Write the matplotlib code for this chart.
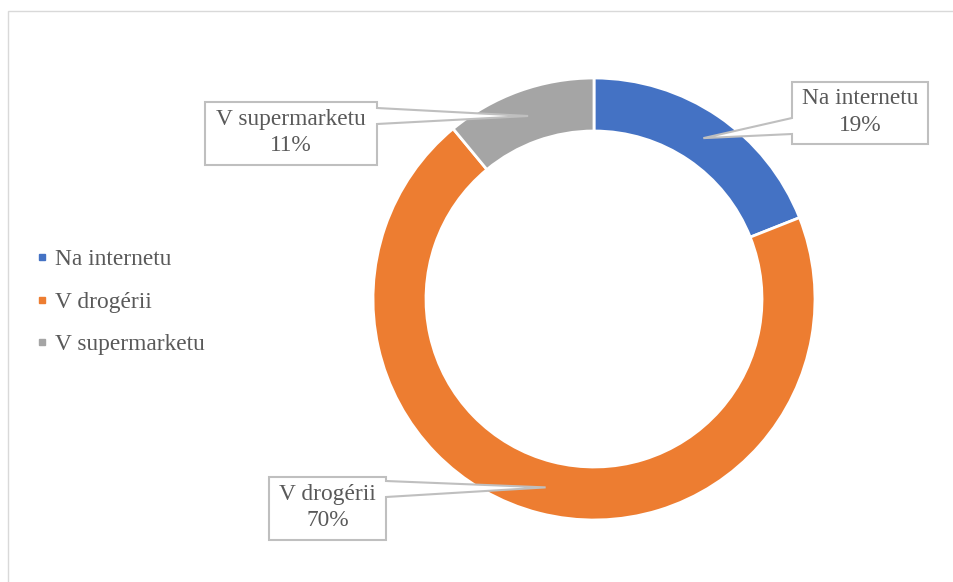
import numpy as np
import matplotlib
matplotlib.use("Agg")
from matplotlib import pyplot as plt
from matplotlib.patches import Polygon, Rectangle
from matplotlib.lines import Line2D

# data
kategorie = ['Na internetu', 'V drogérii', 'V supermarketu']
podiel = [19, 70, 11]
farby = ['#4472C4', '#ED7D31', '#A5A5A5']

# callout boxes (pixel coords: left, top, right, bottom) and side of the pointer
boxy = [(792, 82, 928, 144, 'left'),
        (269, 477, 386, 540, 'right'),
        (205, 102, 377, 165, 'right')]

W, H = 954, 582
plt.rcParams['font.family'] = ['Liberation Serif', 'DejaVu Serif']
txt_farba = '#595959'
fs = 16.8

fig = plt.figure(figsize=(W / 100, H / 100), dpi=100)
ax = fig.add_axes([0, 0, 1, 1])

stred = (594, H - 299)
r_von = 221
r_vnu = 168
wedges, _ = ax.pie(podiel, colors=farby, startangle=90, counterclock=False,
                   center=stred, radius=r_von,
                   wedgeprops=dict(width=r_von - r_vnu, edgecolor='white', linewidth=2))
ax.set_xlim(0, W)
ax.set_ylim(0, H)
ax.set_aspect('equal')
ax.axis('off')

# chart border
ax.add_patch(Rectangle((8, -5), W, H - 11 + 5, fill=False, edgecolor='#D9D9D9', linewidth=1))

# callouts
r_stred = (r_von + r_vnu) / 2
for w, lab, val, (x0, y0, x1, y1, strana) in zip(wedges, kategorie, podiel, boxy):
    uhol = np.deg2rad((w.theta1 + w.theta2) / 2)
    tx = stred[0] + r_stred * np.cos(uhol)
    ty = stred[1] + r_stred * np.sin(uhol)
    ty_px = H - ty
    zc = min(max(ty_px, y0 + 12), y1 - 18)
    b_top, b_bot = zc - 8, zc + 8
    if strana == 'left':
        pts = [(x0, y0), (x1, y0), (x1, y1), (x0, y1), (x0, b_bot), (tx, ty_px), (x0, b_top)]
    else:
        pts = [(x0, y0), (x1, y0), (x1, b_top), (tx, ty_px), (x1, b_bot), (x1, y1), (x0, y1)]
    pts = [(px, H - py) for px, py in pts]
    ax.add_patch(Polygon(pts, closed=True, facecolor='white', edgecolor='#BFBFBF',
                         linewidth=1.5, zorder=5))
    ax.text((x0 + x1) / 2, H - (y0 + y1) / 2 + 1, f'{lab}\n{val}%', ha='center', va='center',
            fontsize=fs, color=txt_farba, linespacing=1.32, zorder=6)

# legend
handles = [Line2D([], [], marker='s', linestyle='', color=c, markersize=5) for c in farby]
leg = ax.legend(handles, kategorie, loc='center left', bbox_to_anchor=(35.5, H - 302),
                bbox_transform=ax.transData, frameon=False, fontsize=fs,
                handlelength=0.6, handletextpad=0.25, labelspacing=0.9,
                borderpad=0, borderaxespad=0)
for t in leg.get_texts():
    t.set_color(txt_farba)

fig.savefig('out.png', dpi=100)
